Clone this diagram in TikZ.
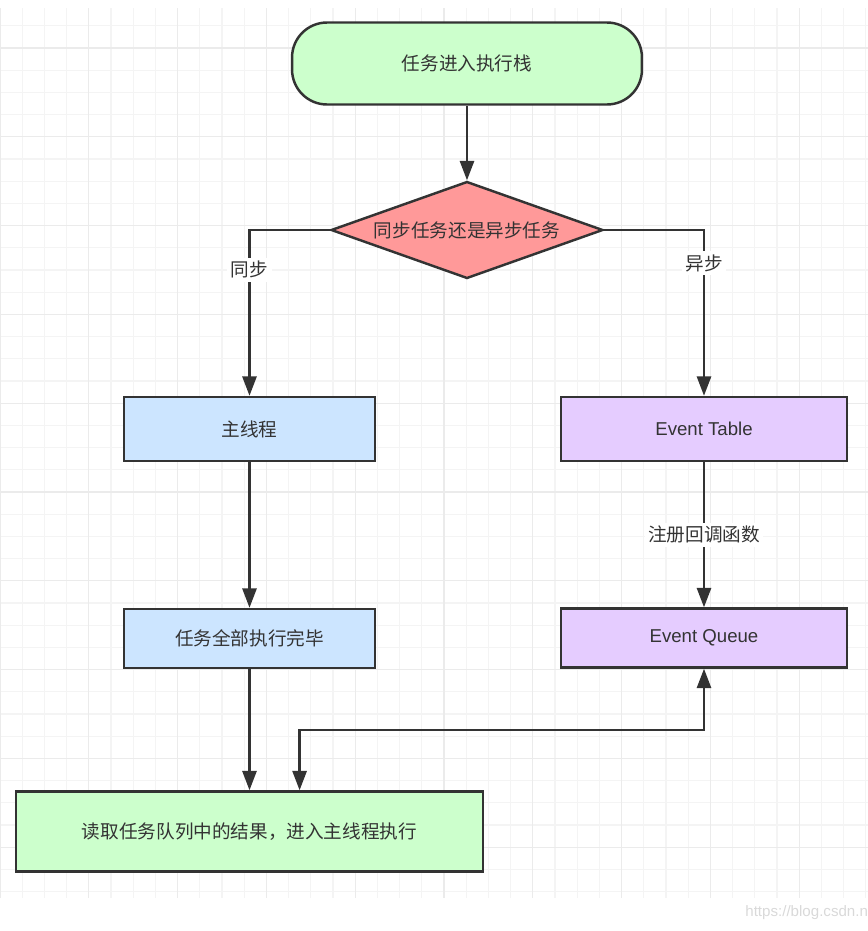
\documentclass[tikz,border=0pt]{standalone}
\usepackage{fontspec}
\newfontfamily\cjk{Noto Sans CJK SC}
\newfontfamily\latin{Liberation Sans}
\usetikzlibrary{shapes.geometric,arrows.meta}
\definecolor{linegray}{HTML}{333333}
\definecolor{txtgray}{HTML}{333333}
\definecolor{boxgreen}{HTML}{CCFFCC}
\definecolor{boxred}{HTML}{FF9999}
\definecolor{boxblue}{HTML}{CCE5FF}
\definecolor{boxpurple}{HTML}{E5CCFF}
\definecolor{gridminor}{HTML}{F4F4F4}
\definecolor{gridmajor}{HTML}{EBEBEB}
\tikzset{
  box/.style={draw=linegray, line width=1.4pt, inner sep=0pt, text=txtgray,
    font=\cjk\fontsize{10.6}{12}\selectfont},
  lbl/.style={fill=white, inner sep=2pt, text=txtgray,
    font=\cjk\fontsize{10.6}{12}\selectfont},
  arr/.style={draw=linegray, line width=1.4pt, ->},
  >={Triangle[length=11pt,width=8pt]}
}
\begin{document}
\begin{tikzpicture} [x=0.02cm, y=-0.02cm]
    \useasboundingbox (0,0) rectangle (868,931);
    % grid
    \foreach \x in {0,22.2,...,868}
      \draw [gridminor, line width=0.6pt] (\x,8) -- (\x,898);
    \foreach \y in {25.8,48,...,898}
      \draw [gridminor, line width=0.6pt] (0,\y) -- (868,\y);
    \foreach \x in {0,88.8,...,868}
      \draw [gridmajor, line width=0.6pt] (\x,8) -- (\x,898);
    \foreach \y in {48,136.8,...,898}
      \draw [gridmajor, line width=0.6pt] (0,\y) -- (868,\y);
    % nodes
    \node [box, fill=boxgreen, rounded corners=0.7cm, minimum width=7cm, minimum height=1.64cm] (start) at (467,63.5) {任务进入执行栈};
    \node [box, diamond, fill=boxred, aspect=2.8, minimum width=5.44cm, minimum height=1.94cm] (choice) at (467,230) {同步任务还是异步任务};
    \node [box, fill=boxblue, minimum width=5.02cm, minimum height=1.28cm] (main) at (249.5,429) {主线程};
    \node [box, fill=boxblue, minimum width=5.02cm, minimum height=1.18cm] (done) at (249.5,638.5) {任务全部执行完毕};
    \node [box, fill=boxpurple, minimum width=5.72cm, minimum height=1.28cm, font=\latin\fontsize{10.6}{12}\selectfont] (table) at (704,429) {Event Table};
    \node [box, fill=boxpurple, minimum width=5.72cm, minimum height=1.18cm, font=\latin\fontsize{10.6}{12}\selectfont] (queue) at (704,638) {Event Queue};
    \node [box, fill=boxgreen, minimum width=9.34cm, minimum height=1.6cm] (final) at (249.5,831.5) {读取任务队列中的结果，进入主线程执行};
    \node [anchor=west, inner sep=0pt, text=black!15, font=\latin\fontsize{8.6}{10}\selectfont] (mark) at (745,913) {https://blog.csdn.n};
    % connectors
    \draw [arr] (start) -- (choice);
    \draw [arr] (choice.west) -| node [lbl, pos=0.62] {同步} (main);
    \draw [arr] (choice.east) -| node [lbl, pos=0.6] {异步} (table);
    \draw [arr] (main) -- (done);
    \draw [arr] (table) -- node [lbl] {注册回调函数} (queue);
    \draw [arr] (done) -- (final);
    \coordinate (back) at (299.6,730);
    \draw [arr, <->] (final.north -| back) -- (back) -| (queue.south);
  \end{tikzpicture}
\end{document}
